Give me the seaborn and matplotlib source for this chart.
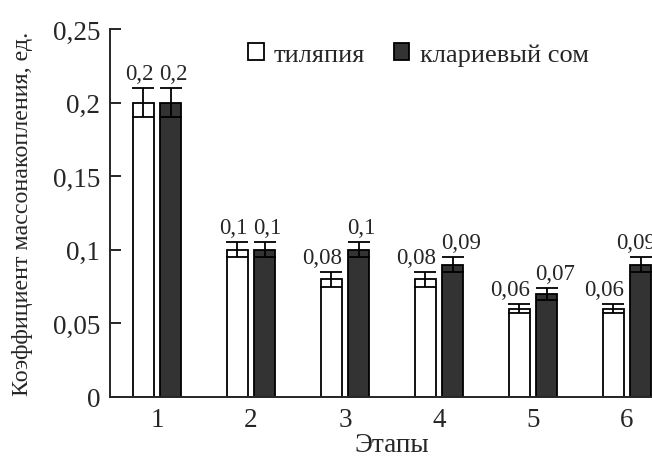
import matplotlib
matplotlib.use("Agg")
import matplotlib.pyplot as plt
import seaborn as sns
import pandas as pd

# data
stages = ["1", "2", "3", "4", "5", "6"]
species = ["тиляпия", "клариевый сом"]
tilapia = [0.2, 0.1, 0.08, 0.08, 0.06, 0.06]
catfish = [0.2, 0.1, 0.1, 0.09, 0.07, 0.09]
tilapia_err = [0.01, 0.005, 0.005, 0.005, 0.003, 0.003]
catfish_err = [0.01, 0.005, 0.005, 0.005, 0.004, 0.005]
y_ticks = [0, 0.05, 0.1, 0.15, 0.2, 0.25]
y_ticklabels = ["0", "0,05", "0,1", "0,15", "0,2", "0,25"]

df = pd.DataFrame({
    "Этапы": stages * 2,
    "value": tilapia + catfish,
    "Вид": [species[0]] * len(stages) + [species[1]] * len(stages),
})

sns.set_style("ticks")
plt.rcParams["font.family"] = ["Liberation Serif", "DejaVu Serif"]
plt.rcParams["font.size"] = 19

fig = plt.figure(figsize=(6.52, 4.6), dpi=100)
ax = fig.add_axes([0.1687, 0.1348, 0.865, 0.80])

sns.barplot(data=df, x="Этапы", y="value", hue="Вид", hue_order=species,
            palette={species[0]: "white", species[1]: "#333333"},
            edgecolor="black", linewidth=1.3, width=0.58, gap=0.24,
            errorbar=None, ax=ax)

# error bars + value labels (white ones hug the right edge, dark ones the left)
errs = [tilapia_err, catfish_err]
for i, (cont, err) in enumerate(zip(ax.containers, errs)):
    n = len(cont)
    for j, (b, e) in enumerate(zip(cont, err)):
        x = b.get_x() + b.get_width() / 2
        h = b.get_height()
        ax.errorbar(x, h, yerr=e, fmt="none", ecolor="black",
                    elinewidth=1.3, capsize=8, capthick=1.3)
        if i == 0:
            xa, ha, dx = b.get_x() + b.get_width(), "right", 0
        elif j == n - 1:
            # last one sits at the right edge of the figure
            xa, ha, dx = x, "center", -3
        else:
            xa, ha, dx = b.get_x(), "left", -1
        ax.annotate(f"{h:g}".replace(".", ","), (xa, h + e),
                    xytext=(dx, 3), textcoords="offset points",
                    ha=ha, va="bottom", fontsize=16.5, annotation_clip=False)

ax.set_xlim(-0.5, 5.5)
ax.set_ylim(0, 0.25)
ax.set_yticks(y_ticks)
ax.set_yticklabels(y_ticklabels)
ax.tick_params(axis="y", direction="in", length=8, width=1.4, labelsize=19.5, pad=7)
ax.tick_params(axis="x", length=0, labelsize=19.5, pad=7)
ax.set_xlabel("Этапы", fontsize=19.5, labelpad=0)
ax.set_ylabel("Коэффициент массонакопления, ед.", fontsize=17.3, labelpad=14)
for s in ["top", "right"]:
    ax.spines[s].set_visible(False)
for s in ["left", "bottom"]:
    ax.spines[s].set_linewidth(1.4)

ax.legend(loc="center", bbox_to_anchor=(0.547, 0.93), ncol=2, frameon=False,
          handlelength=0.58, handleheight=0.58, handletextpad=0.38,
          columnspacing=1.1, fontsize=19)

fig.savefig("out.png", dpi=100)
